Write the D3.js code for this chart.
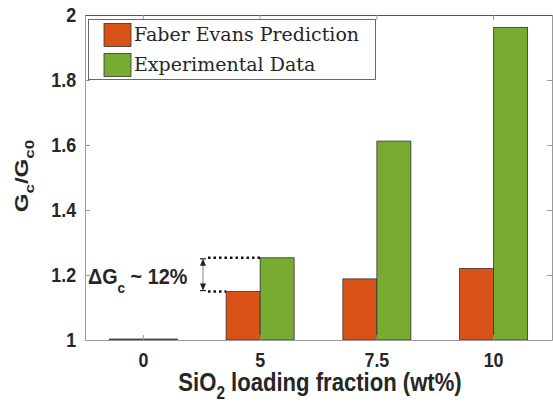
<!DOCTYPE html>
<html>
<head>
<meta charset="utf-8">
<script src="https://cdn.jsdelivr.net/npm/d3@7"></script>
<style>
	body { margin: 0; background: #fff; }
	text { font-family: "Liberation Sans", Arial, sans-serif; }
</style>
</head>
<body>
<div id="chart"></div>
<script>

const categories = ['0', '5', '7.5', '10'];
const seriesNames = ['Faber Evans Prediction', 'Experimental Data'];
const faberEvans = [1.003, 1.149, 1.188, 1.220];
const experimental = [1.003, 1.253, 1.612, 1.962];
const yTicks = [1, 1.2, 1.4, 1.6, 1.8, 2];
const colors = ['#D95319', '#77AC30'];

const width = 553;
const height = 402;
const margin = { top: 15, right: 1, bottom: 62, left: 85 };

// text in the reference looks squeezed sideways
const squeeze = 0.85;

const svg = d3.select('#chart')
	.append('svg')
		.attr('width', width)
		.attr('height', height);

const x = d3.scaleBand()
	.domain(categories)
	.range([margin.left, width - margin.right]);

const xInner = d3.scaleBand()
	.domain([0, 1])
	.range([-34, 34]);

const y = d3.scaleLinear()
	.domain([1, 2])
	.range([height - margin.bottom, margin.top]);

const axisColor = '#9a9a9a';

// bars
const rows = categories.map((c, i) => ({ cat: c, vals: [faberEvans[i], experimental[i]] }));

const groups = svg.append('g')
	.selectAll('g')
	.data(rows)
	.join('g')
		.attr('transform', d => `translate(${x(d.cat) + x.bandwidth() / 2}, 0)`);

groups.selectAll('rect')
	.data(d => d.vals.map((v, k) => ({ v, k })))
	.join('rect')
		.attr('x', d => xInner(d.k))
		.attr('width', xInner.bandwidth())
		.attr('y', d => y(d.v))
		.attr('height', d => y(1) - y(d.v))
		.attr('fill', d => colors[d.k])
		.attr('stroke', '#333')
		.attr('stroke-width', 0.8);

// axes
const yAxis = d3.axisLeft(y)
	.tickValues(yTicks)
	.tickFormat(d3.format('~g'))
	.tickSizeInner(-5)
	.tickSizeOuter(0)
	.tickPadding(10.5);

const gy = svg.append('g')
	.attr('transform', `translate(${margin.left}, 0)`)
	.call(yAxis);

const yRight = d3.axisRight(y)
	.tickValues(yTicks)
	.tickFormat('')
	.tickSizeInner(-5)
	.tickSizeOuter(0);

const gyr = svg.append('g')
	.attr('transform', `translate(${width - margin.right}, 0)`)
	.call(yRight);

const xAxis = d3.axisBottom(x)
	.tickSizeInner(-5)
	.tickSizeOuter(0)
	.tickPadding(12.5);

const gx = svg.append('g')
	.attr('transform', `translate(0, ${height - margin.bottom})`)
	.call(xAxis);

const xTop = d3.axisTop(x)
	.tickFormat('')
	.tickSizeInner(-5)
	.tickSizeOuter(0);

const gxt = svg.append('g')
	.attr('transform', `translate(0, ${margin.top})`)
	.call(xTop);

[gy, gyr, gx, gxt].forEach(g => {
	g.selectAll('path, line').attr('stroke', axisColor);
	g.selectAll('text')
		.attr('fill', '#262626')
		.attr('transform', `scale(${squeeze}, 1)`)
		.style('font-size', '21px')
		.style('font-weight', 'bold');
});
gxt.select('path').attr('stroke', '#555');

// axis labels
svg.append('text')
	.attr('transform', `translate(320, 391) scale(0.85, 1)`)
	.attr('text-anchor', 'middle')
	.attr('fill', '#262626')
	.style('font-size', '26px')
	.style('font-weight', 'bold')
	.html('SiO<tspan dy="8" font-size="18px">2</tspan><tspan dy="-8"> loading fraction (wt%)</tspan>');

svg.append('text')
	.attr('transform', 'translate(28, 176) scale(0.8, 1) rotate(-90)')
	.attr('text-anchor', 'middle')
	.attr('fill', '#262626')
	.style('font-size', '24px')
	.style('font-weight', 'bold')
	.html('G<tspan dy="8" font-size="17px">c</tspan><tspan dy="-8">/G</tspan><tspan dy="8" font-size="17px">c0</tspan>');

// legend
const legend = svg.append('g');

legend.append('rect')
	.attr('x', 88.5)
	.attr('y', 19.5)
	.attr('width', 287)
	.attr('height', 60)
	.attr('fill', '#fff')
	.attr('stroke', '#444')
	.attr('stroke-width', 0.8);

seriesNames.forEach((name, i) => {
	legend.append('rect')
		.attr('x', 104)
		.attr('y', 23.5 + i * 30)
		.attr('width', 27)
		.attr('height', 23)
		.attr('fill', colors[i])
		.attr('stroke', '#333')
		.attr('stroke-width', 0.8);
	legend.append('text')
		.attr('x', 134)
		.attr('y', 41 + i * 30)
		.attr('fill', '#262626')
		.style('font-family', '"DejaVu Serif", "Liberation Serif", serif')
		.style('font-size', '19px')
		.text(name);
});

// delta annotation
const ann = svg.append('g');
const xc5 = x('5') + x.bandwidth() / 2;
const arrowX = 203;
const yTop = y(experimental[1]);
const yBot = y(faberEvans[1]);

ann.append('line')
	.attr('x1', arrowX + 5).attr('x2', xc5)
	.attr('y1', yTop).attr('y2', yTop)
	.attr('stroke', '#111')
	.attr('stroke-width', 2.5)
	.attr('stroke-dasharray', '2.5,3');

ann.append('line')
	.attr('x1', arrowX + 5).attr('x2', xc5 - 34)
	.attr('y1', yBot).attr('y2', yBot)
	.attr('stroke', '#111')
	.attr('stroke-width', 2.5)
	.attr('stroke-dasharray', '2.5,3');

ann.append('line')
	.attr('x1', arrowX).attr('x2', arrowX)
	.attr('y1', yTop + 2).attr('y2', yBot - 2)
	.attr('stroke', '#999')
	.attr('stroke-width', 1.2);

[[yTop, 1], [yBot, -1]].forEach(([yy, s]) => {
	ann.append('path')
		.attr('d', `M${arrowX - 3},${yy + s * 8} L${arrowX},${yy + s * 1} L${arrowX + 3},${yy + s * 8} Z`)
		.attr('fill', '#222');
	ann.append('line')
		.attr('x1', arrowX - 3).attr('x2', arrowX + 3)
		.attr('y1', yy + s * 1).attr('y2', yy + s * 1)
		.attr('stroke', '#222')
		.attr('stroke-width', 1.2);
});

ann.append('text')
	.attr('transform', 'translate(88, 284) scale(0.9, 1)')
	.attr('fill', '#262626')
	.style('font-size', '22px')
	.style('font-weight', 'bold')
	.html('ΔG<tspan dy="9" font-size="15px">c</tspan><tspan dy="-9"> ~ 12%</tspan>');

</script>
</body>
</html>
